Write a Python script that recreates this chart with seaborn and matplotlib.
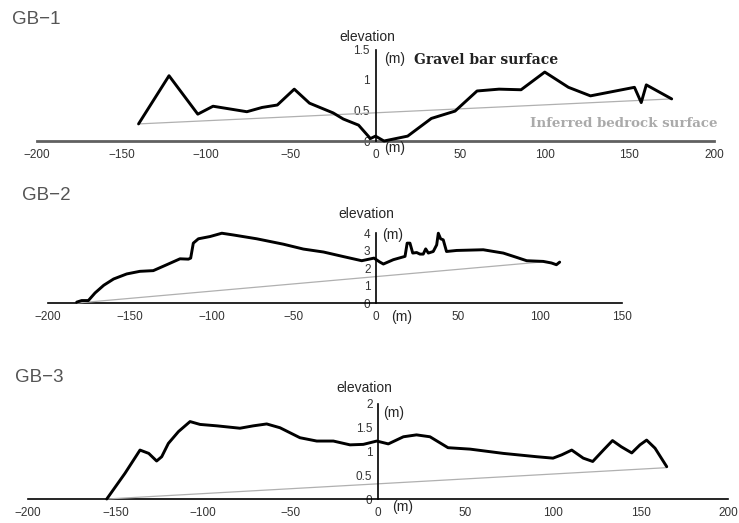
import matplotlib
matplotlib.use("Agg")
import matplotlib.pyplot as plt
import pandas as pd
import seaborn as sns

# GB-1 profile (distance m, elevation m)
gb1_x = [-140, -122, -105, -96, -76, -67, -58, -48, -39, -25, -19, -10, -3, 0, 5, 19,
         33, 47, 60, 73, 86, 100, 114, 127, 153, 157, 160, 175]
gb1_y = [0.28, 1.07, 0.44, 0.57, 0.48, 0.55, 0.59, 0.85, 0.62, 0.46, 0.36, 0.26, 0.04,
         0.08, 0.0, 0.08, 0.37, 0.49, 0.82, 0.85, 0.84, 1.13, 0.88, 0.74, 0.88, 0.63, 0.92, 0.69]
gb1_rock_x = [-140, 175]
gb1_rock_y = [0.28, 0.69]

# GB-2 profile
gb2_x = [-182.5, -179.5, -175.4, -171.3, -166, -160, -152, -144, -135.8, -127.6, -119.5,
         -114.4, -113, -111.4, -108.3, -101.2, -94, -87, -72.7, -56.5, -44.3, -32, -20,
         -8.7, -1.2, 2.4, 4.5, 10.6, 17.7, 19, 20.7, 22.4, 24.8, 26.8, 28.8, 30.3, 31.9,
         34.9, 37, 38, 39.4, 41, 43, 49.2, 65.4, 77.6, 85.8, 91.9, 102, 107, 110, 112]
gb2_y = [0.05, 0.14, 0.14, 0.58, 1.02, 1.38, 1.67, 1.82, 1.86, 2.2, 2.54, 2.52, 2.58,
         3.44, 3.69, 3.82, 4.01, 3.91, 3.69, 3.38, 3.1, 2.93, 2.67, 2.43, 2.58, 2.35, 2.24,
         2.49, 2.68, 3.44, 3.44, 2.87, 2.9, 2.81, 2.81, 3.11, 2.87, 2.96, 3.34, 4.01, 3.69,
         3.63, 2.96, 3.02, 3.06, 2.87, 2.62, 2.43, 2.39, 2.3, 2.2, 2.35]
gb2_rock_x = [-182, 100]
gb2_rock_y = [0.0, 2.35]

# GB-3 profile
gb3_x = [-155, -144.6, -136, -131, -126.5, -123.6, -119.8, -114, -107.4, -101.7, -92,
         -78.9, -71.3, -63.6, -56, -44.6, -35, -25.5, -16, -8.4, -0.7, 5.9, 14.5, 22,
         29.7, 40, 52.6, 71.6, 90.7, 100, 105, 110.7, 117.3, 122.7, 128.8, 134, 139, 145,
         149.7, 153.5, 158.3, 165]
gb3_y = [0.0, 0.54, 1.03, 0.96, 0.8, 0.89, 1.17, 1.42, 1.63, 1.57, 1.54, 1.49, 1.54,
         1.58, 1.5, 1.29, 1.22, 1.22, 1.14, 1.15, 1.22, 1.16, 1.31, 1.35, 1.31, 1.08, 1.05,
         0.96, 0.89, 0.86, 0.93, 1.03, 0.86, 0.79, 1.03, 1.23, 1.1, 0.97, 1.14, 1.24, 1.07,
         0.68]
gb3_rock_x = [-155, 165]
gb3_rock_y = [0.0, 0.66]

sns.set_style("white")
plt.rcParams["font.family"] = ["Liberation Sans", "DejaVu Sans"]
plt.rcParams["axes.unicode_minus"] = True

W, H = 739, 523
fig = plt.figure(figsize=(W / 100, H / 100), dpi=100)


def px_axes(left, right, top, bottom):
    return fig.add_axes([left / W, 1 - bottom / H, (right - left) / W, (bottom - top) / H])


def profile(ax, x, y, rx, ry, xlim, ylim, xticks, yticks, ylabels, xline_color, xline_w):
    ax.set_facecolor("none")
    sns.lineplot(x=rx, y=ry, ax=ax, color="#b0b0b0", linewidth=0.9, sort=False, estimator=None)
    sns.lineplot(x=x, y=y, ax=ax, color="black", linewidth=2.1, sort=False, estimator=None)
    for ln in ax.lines:
        ln.set_solid_joinstyle("round")
    ax.set_xlim(*xlim)
    ax.set_ylim(*ylim)
    for s in ["top", "right"]:
        ax.spines[s].set_visible(False)
    ax.spines["bottom"].set_position(("data", 0))
    ax.spines["left"].set_position(("data", 0))
    ax.spines["bottom"].set_color(xline_color)
    ax.spines["bottom"].set_linewidth(xline_w)
    ax.spines["bottom"].set_zorder(1)
    ax.spines["left"].set_color("black")
    ax.spines["left"].set_linewidth(1.2)
    ax.spines["left"].set_bounds(0, yticks[-1])
    ax.set_xticks(xticks)
    ax.set_xticklabels([f"{t:d}".replace("-", "\u2212") for t in xticks])
    ax.set_yticks(yticks)
    ax.set_yticklabels(ylabels)
    ax.tick_params(axis="x", length=0, pad=6, labelsize=8.5, labelcolor="#333333")
    ax.tick_params(axis="y", direction="in", length=4, width=1, pad=4,
                   labelsize=8.5, labelcolor="#333333")
    ax.set_xlabel("")
    ax.set_ylabel("")


# GB-1
ax1 = px_axes(37, 714, 31.2, 159.3)
profile(ax1, gb1_x, gb1_y, gb1_rock_x, gb1_rock_y, (-200, 200), (-0.3, 1.8),
        list(range(-200, 201, 50)), [0, 0.5, 1, 1.5], ["0", "0.5", "1", "1.5"], "#606060", 2.0)
ax1.text(-5, 1.71, "elevation", ha="center", va="center", fontsize=10)
ax1.text(5, 1.35, "(m)", ha="left", va="center", fontsize=10)
ax1.text(5, -0.12, "(m)", ha="left", va="center", fontsize=10)
ax1.text(23, 1.33, "Gravel bar surface", ha="left", va="center", fontsize=10,
         family=["DejaVu Serif"], color="#222222", fontweight="bold")
ax1.text(91, 0.29, "Inferred bedrock surface", ha="left", va="center", fontsize=9.6,
         family=["DejaVu Serif"], color="#aaaaaa", fontweight="bold")

# GB-2
ax2 = px_axes(48, 622, 216, 311.7)
profile(ax2, gb2_x, gb2_y, gb2_rock_x, gb2_rock_y, (-200, 150), (-0.5, 5),
        list(range(-200, 151, 50)), [0, 1, 2, 3, 4], ["0", "1", "2", "3", "4"], "black", 1.2)
ax2.text(-6, 5.1, "elevation", ha="center", va="center", fontsize=10)
ax2.text(4, 3.9, "(m)", ha="left", va="center", fontsize=10)
ax2.text(9, -0.8, "(m)", ha="left", va="center", fontsize=10)

# GB-3
ax3 = px_axes(28, 728, 385, 508.5)
profile(ax3, gb3_x, gb3_y, gb3_rock_x, gb3_rock_y, (-200, 200), (-0.2, 2.4),
        list(range(-200, 201, 50)), [0, 0.5, 1, 1.5, 2], ["0", "0.5", "1", "1.5", "2"], "black", 1.2)
ax3.text(-8, 2.34, "elevation", ha="center", va="center", fontsize=10)
ax3.text(3, 1.82, "(m)", ha="left", va="center", fontsize=10)
ax3.text(8, -0.17, "(m)", ha="left", va="center", fontsize=10)

for label, (px, py) in zip(["GB\u22121", "GB\u22122", "GB\u22123"], [(12, 20), (22, 195), (15, 378)]):
    fig.text(px / W, 1 - py / H, label, ha="left", va="center", fontsize=13.5, color="#555555")

fig.savefig("out.png", dpi=100)
